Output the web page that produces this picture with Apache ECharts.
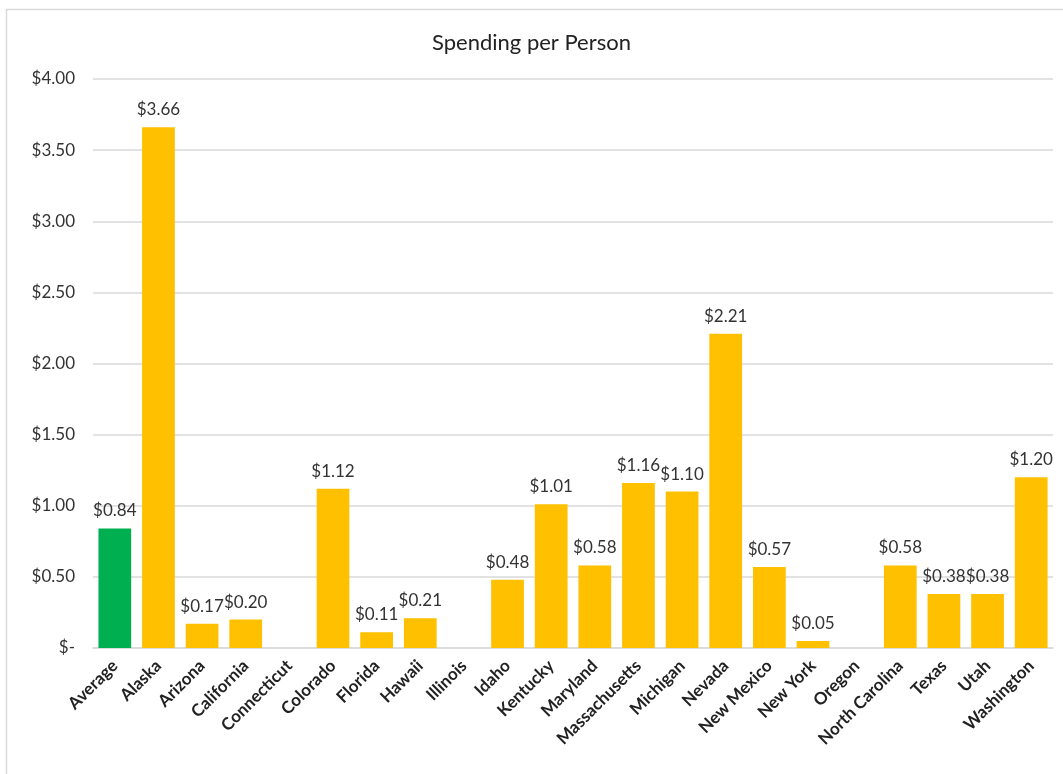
<html>
  <head>
    <meta charset="utf-8" />
    <script src="https://cdn.jsdelivr.net/npm/echarts@6/dist/echarts.min.js"></script>
  </head>
  <body>
    <style>
      html,
      body,
      #main {
        width: 100%;
        height: 100%;
        margin: 0;
        background: #fff;
      }
    </style>
    <div id="main"></div>
    <script>
      var chart = echarts.init(document.getElementById('main'));

      const states = ['Average', 'Alaska', 'Arizona', 'California', 'Connecticut', 'Colorado',
        'Florida', 'Hawaii', 'Illinois', 'Idaho', 'Kentucky', 'Maryland', 'Massachusetts',
        'Michigan', 'Nevada', 'New Mexico', 'New York', 'Oregon', 'North Carolina', 'Texas',
        'Utah', 'Washington'];
      // null = no bar in the source
      const spending = [0.84, 3.66, 0.17, 0.2, null, 1.12, 0.11, 0.21, null, 0.48, 1.01, 0.58,
        1.16, 1.1, 2.21, 0.57, 0.05, null, 0.58, 0.38, 0.38, 1.2];

      const font = 'Lato, "Noto Sans", sans-serif';

      var option = {
        backgroundColor: '#fff',
        animation: false,
        title: {
          text: 'Spending per Person',
          left: 'center',
          top: 27,
          textStyle: { fontFamily: font, fontSize: 22, fontWeight: 'normal', color: '#222' },
        },
        graphic: [
          {
            type: 'rect',
            shape: { x: 6.5, y: 9.5, width: 1100, height: 800 },
            style: { fill: 'none', stroke: '#d9d9d9', lineWidth: 1.5 },
            silent: true,
          },
        ],
        grid: { left: 93, right: 10, top: 79, bottom: 126 },
        xAxis: {
          type: 'category',
          data: states,
          axisTick: { show: false },
          axisLine: { lineStyle: { color: '#d9d9d9', width: 1.5 } },
          axisLabel: {
            interval: 0,
            rotate: 45,
            margin: 15,
            fontFamily: font,
            fontWeight: 'bold',
            fontSize: 17,
            color: '#222',
          },
        },
        yAxis: {
          type: 'value',
          min: 0,
          max: 4,
          interval: 0.5,
          axisLine: { show: false },
          axisTick: { show: false },
          splitLine: { lineStyle: { color: '#d9d9d9', width: 1.5 } },
          axisLabel: {
            margin: 18,
            fontFamily: font,
            fontSize: 17,
            color: '#333',
            formatter: function (v) {
              return v === 0 ? '$-' : '$' + v.toFixed(2);
            },
          },
        },
        series: [
          {
            type: 'bar',
            barCategoryGap: '25%',
            data: spending.map(function (v, i) {
              return {
                value: v === null ? '-' : v,
                itemStyle: { color: i === 0 ? '#00b050' : '#ffc000' },
              };
            }),
            label: {
              show: true,
              position: 'top',
              distance: 9,
              fontFamily: font,
              fontSize: 17,
              color: '#333',
              formatter: function (p) {
                return '$' + p.value.toFixed(2);
              },
            },
          },
        ],
      };

      chart.setOption(option);

      window.onresize = function () {
        chart.resize();
      };
    </script>
  </body>
</html>
